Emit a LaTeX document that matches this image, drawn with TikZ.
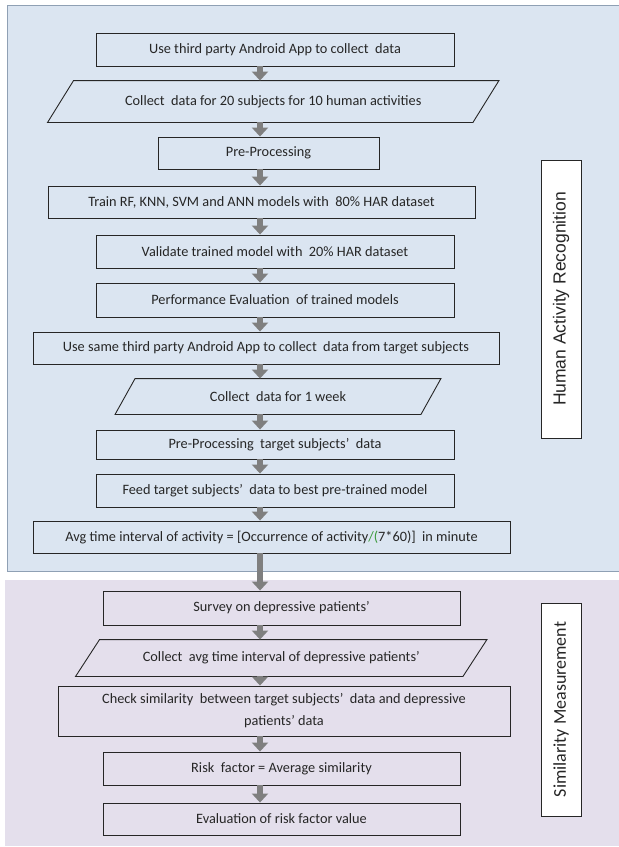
\documentclass[tikz,border=0pt]{standalone}
\usepackage{fontspec}
\setmainfont{Carlito}
\newfontfamily\harfont{Liberation Sans}
\usetikzlibrary{arrows.meta}

\definecolor{harblue}{HTML}{DBE5F1}
\definecolor{simpurple}{HTML}{E4DFEC}
\definecolor{panelline}{HTML}{8FA0B4}
\definecolor{arrowgray}{HTML}{7F7F7F}
\definecolor{spellgreen}{HTML}{3A9A3A}

\tikzset{
  box/.style={draw=black!85, text=black!85, line width=0.9pt, inner sep=0pt,
    align=center, font=\fontsize{14.3}{22}\selectfont},
  slantbox/.style={draw=none},
  slantline/.style={draw=black!85, line width=0.9pt, line join=miter},
  sidebox/.style={draw=black!85, text=black!85, fill=white, line width=0.9pt,
    inner sep=0pt, rotate=90, minimum height=40pt},
  flow/.style={draw=arrowgray, line width=6.5pt, -{Triangle[width=16pt,length=9pt]}},
}

% parallelogram round a named node: #1 node, #2 half of the slant
\newcommand{\slantframe}[2]{%
  \draw[slantline] ([xshift=-#2]#1.south west) -- ([xshift=#2]#1.north west)
    -- ([xshift=#2]#1.north east) -- ([xshift=-#2]#1.south east) -- cycle;}

\begin{document}
\begin{tikzpicture}[x=1pt,y=-1pt]
\useasboundingbox (0,0) rectangle (619,847);

% panels
\fill[harblue] (7,5) rectangle (619,571);
\draw[panelline, line width=1pt] (619,5) -- (7,5) -- (7,571) -- (619,571);
\fill[simpurple] (5,580) rectangle (619,846);

\coordinate(ax) at(260,0);

\begin{scope}[every node/.style={box}]
\node[minimum width=358pt, minimum height=33pt](use) at(275,49.5) {Use third party Android App to collect\ \ data};
\node[slantbox, minimum width=424.5pt, minimum height=41pt](coll) at(273.25,101.5) {Collect\ \ data for 20 subjects for 10 human activities};
\node[minimum width=221pt, minimum height=32pt](pre) at(268.5,153) {Pre-Processing};
\node[minimum width=427pt, minimum height=32pt](train) at(261.5,202) {Train RF, KNN, SVM and ANN models with\ \ 80\% HAR dataset};
\node[minimum width=358pt, minimum height=33pt](valid) at(275,251.5) {Validate trained model with\ \ 20\% HAR dataset};
\node[minimum width=358pt, minimum height=34pt](perf) at(275,300) {Performance Evaluation\ \ of trained models};
\node[minimum width=466pt, minimum height=32pt](same) at(266,348) {Use same third party Android App to collect\ \ data from target subjects};
\node[slantbox, minimum width=305pt, minimum height=35pt](week) at(278,396.5) {Collect\ \ data for 1 week};
\node[minimum width=358pt, minimum height=29pt](pret) at(275,444.5) {Pre-Processing\ \ target subjects’\ \ data};
\node[minimum width=358pt, minimum height=33pt](feed) at(275,490.5) {Feed target subjects’\ \ data to best pre-trained model};
\node[minimum width=477pt, minimum height=32pt](avg) at(271.5,537) {Avg time interval of activity = [Occurrence of activity{\color{spellgreen}/(}7*60)]\ \ in minute};

\node[minimum width=357pt, minimum height=34pt](survey) at(281.5,608) {Survey on depressive patients’};
\node[slantbox, minimum width=386.5pt, minimum height=36pt](collavg) at(281.25,658) {Collect\ \ avg time interval of depressive patients’};
\node[minimum width=452pt, minimum height=50pt](check) at(284,711) {Check similarity\ \ between target subjects’\ \ data and depressive\\ patients’ data};
\node[minimum width=357pt, minimum height=33pt](risk) at(281.5,768.5) {Risk\ \ factor = Average similarity};
\node[minimum width=357pt, minimum height=32pt](eval) at(281.5,819) {Evaluation of risk factor value};
\end{scope}

\slantframe{coll}{13pt}
\slantframe{week}{10pt}
\slantframe{collavg}{12pt}

\node[sidebox, minimum width=278pt, font=\harfont\fontsize{17.5}{20}\selectfont](har) at(561,299) {Human Activity Recognition};
\node[sidebox, minimum width=213pt, font=\fontsize{18}{20}\selectfont](sim) at(561,709.5) {Similarity Measurement};

\foreach \a/\b in {use/coll,coll/pre,pre/train,train/valid,valid/perf,perf/same,same/week,week/pret,
  pret/feed,feed/avg,avg/survey,survey/collavg,collavg/check,check/risk,risk/eval}
  \draw[flow] (\a.south -| ax) -- (\b.north -| ax);

\end{tikzpicture}
\end{document}
